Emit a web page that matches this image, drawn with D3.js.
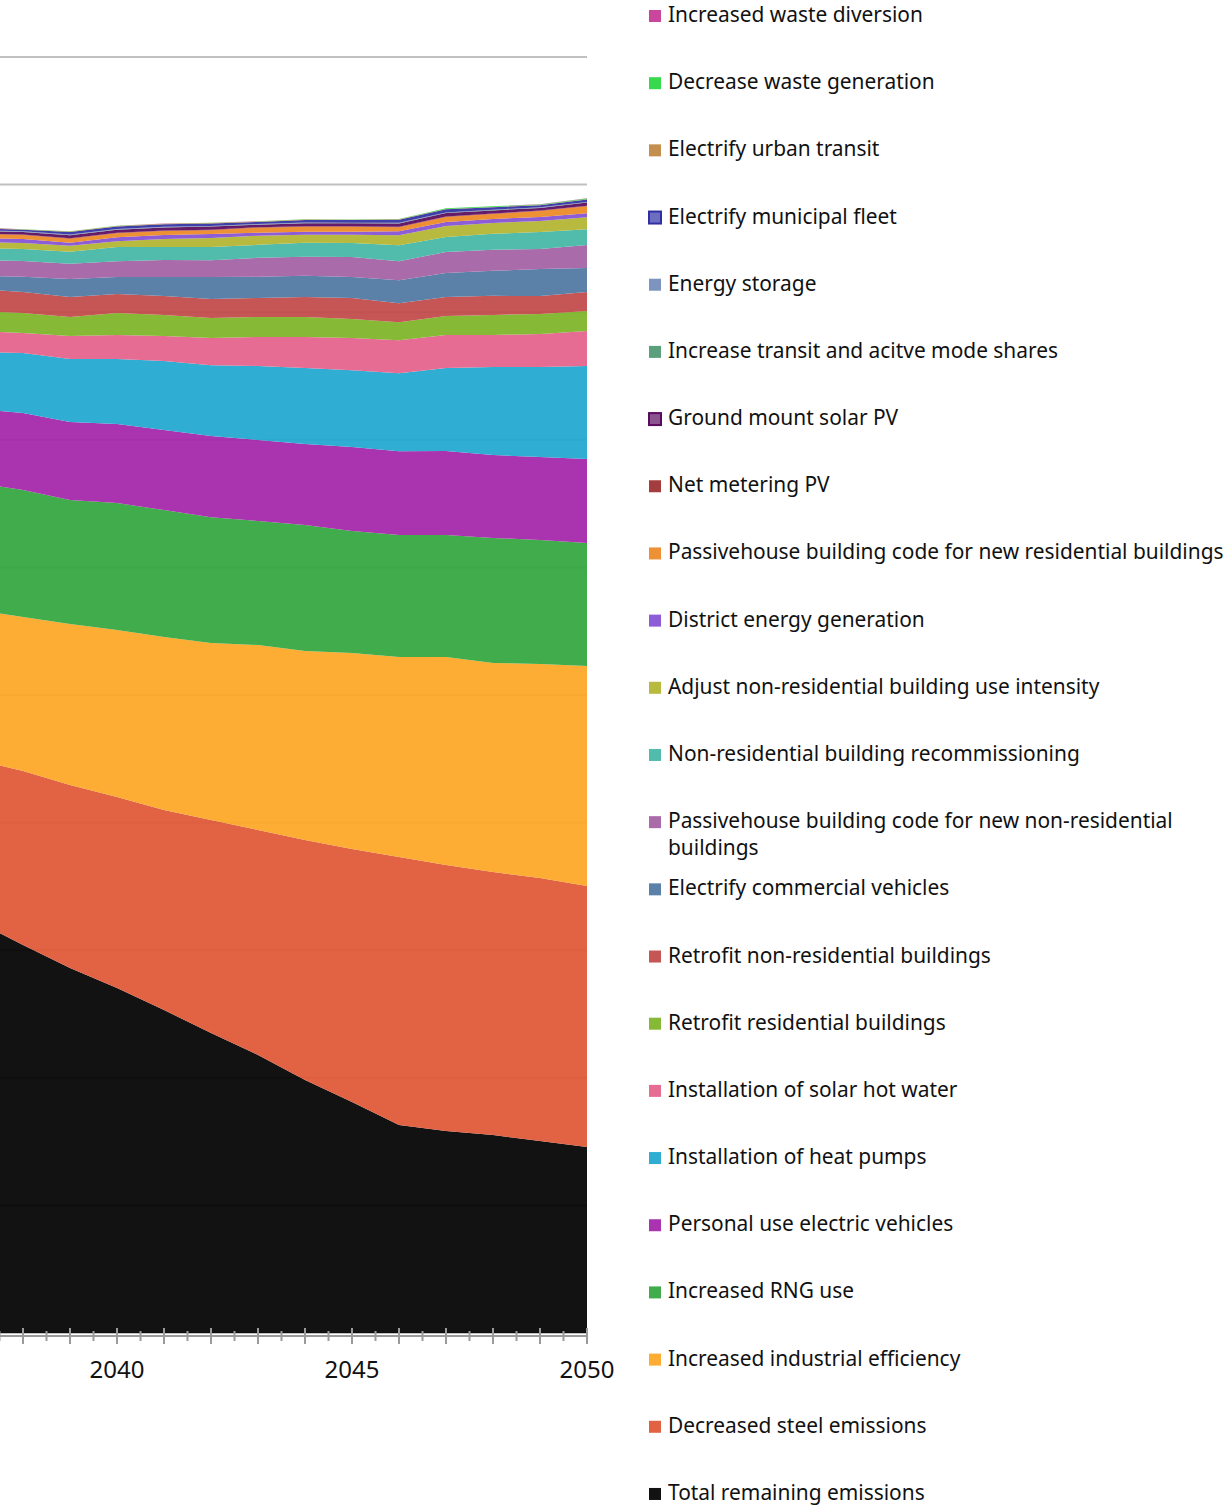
<!DOCTYPE html>
<html>
<head>
<meta charset="utf-8">
<script src="https://cdn.jsdelivr.net/npm/d3@7"></script>
<style>
  html, body { margin: 0; padding: 0; background: #fff; }
  svg { display: block; font-family: "Noto Sans", "Open Sans", sans-serif; }
</style>
</head>
<body>
<svg id="chart" width="1225" height="1507"></svg>
<script>
// ---- data (one gridline = 100 units) ----
const years = [2037, 2038, 2039, 2040, 2041, 2042, 2043, 2044, 2045, 2046, 2047, 2048, 2049, 2050];

const totalRemaining   = [322.9, 304.1, 286.1, 270.4, 253.1, 235.1, 217.9, 198.3, 181.0, 163.0, 158.3, 155.2, 150.5, 145.8];
const steel            = [126.2, 136.4, 143.4, 149.7, 156.7, 166.9, 176.3, 188.1, 198.3, 210.0, 208.5, 206.1, 206.1, 204.5];
const industrial       = [117.6, 120.7, 126.2, 130.9, 135.6, 138.7, 145.0, 148.1, 153.6, 156.7, 163.0, 163.8, 167.7, 172.4];
const rng              = [99.5, 99.5, 97.2, 99.5, 99.5, 98.7, 97.2, 98.7, 95.6, 95.6, 95.6, 98.0, 97.2, 96.4];
const personalEV       = [58.0, 60.3, 61.1, 61.9, 62.7, 63.5, 63.5, 63.5, 65.8, 65.8, 65.8, 65.0, 65.0, 65.8];
const heatPumps        = [44.7, 47.0, 49.4, 50.9, 54.1, 55.6, 58.0, 59.6, 60.3, 61.1, 65.0, 69.0, 70.5, 72.9];
const solarHotWater    = [16.5, 15.7, 18.0, 18.8, 19.6, 21.2, 22.7, 24.3, 25.1, 25.9, 25.9, 25.1, 25.9, 27.4];
const retrofitRes      = [15.7, 15.7, 14.9, 17.2, 16.5, 15.7, 15.7, 15.7, 14.9, 14.1, 14.9, 15.7, 15.7, 15.7];
const retrofitNonRes   = [17.2, 16.5, 15.7, 14.9, 14.9, 14.9, 14.9, 15.7, 16.5, 14.9, 14.9, 14.9, 14.1, 14.9];
const commercialEV     = [10.2, 11.8, 14.1, 13.3, 14.9, 17.2, 16.5, 16.5, 16.5, 18.0, 18.8, 19.6, 21.2, 18.8];
const passiveNonRes    = [12.5, 12.5, 11.8, 12.5, 13.3, 13.3, 14.9, 14.9, 15.7, 14.9, 16.5, 16.5, 15.7, 18.0];
const recommissioning  = [9.4, 9.4, 9.4, 11.0, 10.2, 10.2, 10.2, 11.0, 11.0, 12.5, 11.8, 12.5, 13.3, 12.5];
const useIntensity     = [4.7, 4.7, 4.7, 4.7, 6.3, 7.1, 7.1, 6.3, 6.3, 7.8, 8.6, 8.6, 8.6, 9.4];
const districtEnergy   = [3.1, 3.1, 2.4, 3.1, 3.1, 3.1, 2.4, 2.4, 2.4, 3.1, 3.1, 3.1, 3.1, 3.1];
const passiveRes       = [3.1, 3.1, 3.1, 3.1, 3.1, 3.1, 3.9, 3.9, 3.9, 3.1, 3.9, 3.9, 4.7, 5.5];
const netMetering      = [0.4, 0.4, 0.4, 0.4, 0.4, 0.4, 0.4, 0.4, 0.4, 0.4, 0.4, 0.4, 0.4, 0.4];
const groundSolar      = [2.0, 2.0, 2.4, 2.4, 2.4, 2.4, 2.0, 2.4, 2.4, 2.7, 2.7, 2.4, 2.0, 2.4];
const transitShares    = [0.2, 0.2, 0.2, 0.2, 0.2, 0.2, 0.2, 0.2, 0.2, 0.2, 0.2, 0.2, 0.2, 0.2];
const energyStorage    = [0.3, 0.3, 0.3, 0.3, 0.3, 0.3, 0.3, 0.3, 0.3, 0.3, 0.3, 0.3, 0.3, 0.3];
const municipalFleet   = [1.6, 1.2, 2.0, 2.0, 2.0, 2.0, 1.6, 2.0, 2.0, 2.4, 2.4, 2.0, 1.6, 2.0];
const urbanTransit     = [0.4, 0.3, 0.5, 0.4, 0.4, 0.4, 0.4, 0.4, 0.3, 0.3, 0.2, 0.2, 0.2, 0.2];
const wasteGeneration  = [0.1, 0.1, 0.1, 0.1, 0.1, 0.1, 0.1, 0.1, 0.1, 0.2, 0.6, 0.5, 0.5, 0.6];
const wasteDiversion   = [0.1, 0.1, 0.1, 0.1, 0.1, 0.1, 0.1, 0.1, 0.1, 0.1, 0.1, 0.1, 0.1, 0.1];

// bottom -> top
const seriesNames = [
  "Total remaining emissions",
  "Decreased steel emissions",
  "Increased industrial efficiency",
  "Increased RNG use",
  "Personal use electric vehicles",
  "Installation of heat pumps",
  "Installation of solar hot water",
  "Retrofit residential buildings",
  "Retrofit non-residential buildings",
  "Electrify commercial vehicles",
  "Passivehouse building code for new non-residential buildings",
  "Non-residential building recommissioning",
  "Adjust non-residential building use intensity",
  "District energy generation",
  "Passivehouse building code for new residential buildings",
  "Net metering PV",
  "Ground mount solar PV",
  "Increase transit and acitve mode shares",
  "Energy storage",
  "Electrify municipal fleet",
  "Electrify urban transit",
  "Decrease waste generation",
  "Increased waste diversion"
];
const seriesValues = [
  totalRemaining, steel, industrial, rng, personalEV, heatPumps, solarHotWater,
  retrofitRes, retrofitNonRes, commercialEV, passiveNonRes, recommissioning,
  useIntensity, districtEnergy, passiveRes, netMetering, groundSolar,
  transitShares, energyStorage, municipalFleet, urbanTransit, wasteGeneration, wasteDiversion
];
const seriesColors = [
  "#000000", "#e05636", "#fda625", "#33a63d", "#a424aa", "#20a7cf", "#e5618b",
  "#7db427", "#c14948", "#5077a3", "#a360a3", "#44b7a6", "#b3b430", "#8351d4",
  "#ed8825", "#9d2e2e", "#5a0a5f", "#509872", "#738cb9", "#3030a5", "#c08541",
  "#29d73f", "#c53894"
];
// legend lines (wrapped like the original)
const legendLines = {
  "Passivehouse building code for new non-residential buildings":
    ["Passivehouse building code for new non-residential", "buildings"]
};
const xTickLabels = [2040, 2045, 2050];

// ---- build table ----
const table = years.map((y, i) => {
  const row = { year: y };
  seriesNames.forEach((n, k) => { row[n] = seriesValues[k][i]; });
  return row;
});

const svg = d3.select("#chart");
const x = d3.scaleLinear().domain([2040, 2050]).range([117, 587]);
const y = d3.scaleLinear().domain([0, 1000]).range([1333, 57]);
const color = d3.scaleOrdinal().domain(seriesNames).range(seriesColors);

// gridlines (under the translucent areas)
svg.append("g").selectAll("line")
  .data(d3.range(0, 1001, 100))
  .join("line")
  .attr("x1", 0).attr("x2", x(2050))
  .attr("y1", d => y(d)).attr("y2", d => y(d))
  .attr("stroke", "#c0c0c0").attr("stroke-width", 2);

const stack = d3.stack().keys(seriesNames);
const stacked = stack(table);

const area = d3.area()
  .x(d => x(d.data.year))
  .y0(d => y(d[0]))
  .y1(d => y(d[1]));

svg.append("defs").append("clipPath").attr("id", "plotclip")
  .append("rect").attr("x", 0).attr("y", 0).attr("width", x(2050)).attr("height", 1340);

svg.append("g").attr("clip-path", "url(#plotclip)")
  .selectAll("path")
  .data(stacked)
  .join("path")
  .attr("d", area)
  .attr("fill", d => color(d.key))
  .attr("fill-opacity", 0.93);

// x axis
const axisY = 1336;
const majorTicks = d3.range(2038, 2051);
const minorTicks = d3.range(2037.5, 2050, 1);
const axisG = svg.append("g").attr("transform", `translate(0,${axisY})`);
axisG.append("line").attr("x1", 0).attr("x2", x(2050) + 1)
  .attr("stroke", "#9a9a9a").attr("stroke-width", 2);
axisG.selectAll("line.major").data(majorTicks).join("line").attr("class", "major")
  .attr("x1", d => x(d)).attr("x2", d => x(d))
  .attr("y1", -8).attr("y2", 8)
  .attr("stroke", "#9a9a9a").attr("stroke-width", 2);
axisG.selectAll("line.minor").data(minorTicks).join("line").attr("class", "minor")
  .attr("x1", d => x(d)).attr("x2", d => x(d))
  .attr("y1", -5).attr("y2", 5)
  .attr("stroke", "#9a9a9a").attr("stroke-width", 2);
axisG.selectAll("text").data(xTickLabels).join("text")
  .attr("x", d => x(d)).attr("y", 42)
  .attr("text-anchor", "middle")
  .attr("font-size", 24).attr("fill", "#111")
  .text(d => d);

// legend (top of stack first)
const legendOrder = seriesNames.slice().reverse();
const lg = svg.append("g");
const rowH = 67.18;
const items = lg.selectAll("g").data(legendOrder).join("g")
  .attr("transform", (d, i) => `translate(649,${10 + i * rowH})`);
items.append("rect")
  .attr("width", 12).attr("height", 12)
  .attr("fill", d => color(d))
  .attr("fill-opacity", d => (d === "Electrify municipal fleet" || d === "Ground mount solar PV") ? 0.7 : 0.93)
  .attr("stroke", d => (d === "Electrify municipal fleet" || d === "Ground mount solar PV") ? color(d) : "none")
  .attr("stroke-width", 2);
items.each(function(d) {
  const lines = legendLines[d] || [d];
  const t = d3.select(this).append("text")
    .attr("x", 19).attr("y", 12)
    .attr("font-size", 20.9).attr("fill", "#111");
  lines.forEach((ln, j) => {
    t.append("tspan").attr("x", 19).attr("dy", j === 0 ? 0 : 27).text(ln);
  });
});
</script>
</body>
</html>
